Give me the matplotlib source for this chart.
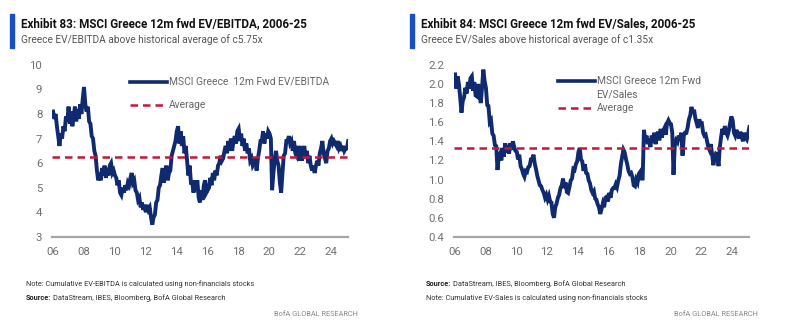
import pandas as pd
import matplotlib.pyplot as plt
from matplotlib import font_manager
from matplotlib.patches import Rectangle

# pick a narrow font if we have one
names = set(f.name for f in font_manager.fontManager.ttflist)
narrow = 'Liberation Sans Narrow' in names
plt.rcParams['font.family'] = ['Liberation Sans Narrow' if narrow else 'Roboto', 'DejaVu Sans']
k = 1.0 if narrow else 0.84

NAVY = '#0f2a6e'
RED = '#c4173b'
GREY = '#666666'

# monthly readings, Jan 2006 - Feb 2025
ev_ebitda = [
    8.1, 7.8, 8.0, 7.5, 7.1, 6.7, 7.2, 7.0, 7.5, 7.3, 7.9, 7.7,   # 2006
    8.3, 7.6, 8.1, 7.5, 7.9, 8.3, 7.7, 8.2, 7.8, 8.4, 8.0, 8.6,   # 2007
    9.1, 8.4, 8.1, 8.3, 7.7, 7.6, 7.1, 7.0, 6.5, 6.3, 5.7, 5.3,   # 2008
    5.6, 5.3, 5.8, 5.5, 5.9, 5.4, 5.8, 5.5, 5.9, 6.0, 5.6, 5.7,   # 2009
    5.5, 5.4, 5.1, 5.3, 4.8, 4.7, 5.0, 4.8, 5.1, 4.9, 5.2, 5.1,   # 2010
    5.4, 5.6, 5.2, 5.3, 4.9, 4.8, 4.5, 4.6, 4.2, 4.4, 4.1, 4.3,   # 2011
    4.0, 4.3, 4.1, 4.2, 3.8, 3.5, 3.8, 3.9, 4.4, 4.5, 5.0, 5.1,   # 2012
    5.5, 5.8, 5.2, 5.6, 5.9, 5.3, 5.6, 5.7, 6.3, 6.5, 6.7, 6.9,   # 2013
    7.3, 7.5, 6.8, 7.3, 6.7, 7.1, 6.4, 6.7, 6.1, 5.5, 5.9, 5.2,   # 2014
    5.2, 4.8, 5.3, 4.9, 5.3, 4.6, 4.4, 4.9, 4.5, 5.1, 5.3, 4.8,   # 2015
    4.9, 5.0, 5.4, 5.1, 5.6, 5.3, 5.7, 5.5, 5.9, 6.0, 6.3, 6.1,   # 2016
    6.2, 6.5, 6.7, 6.4, 6.9, 6.5, 7.0, 6.5, 6.9, 7.1, 6.8, 7.3,   # 2017
    7.4, 6.9, 7.2, 6.7, 7.0, 6.5, 6.8, 6.4, 6.6, 6.1, 6.2, 5.9,   # 2018
    6.0, 6.2, 5.7, 6.2, 6.5, 6.9, 6.9, 7.3, 6.8, 7.2, 7.0, 7.3,   # 2019
    7.2, 7.0, 4.9, 5.6, 6.1, 6.5, 6.1, 5.9, 5.2, 4.8, 5.6, 6.3,   # 2020
    6.4, 6.9, 6.9, 7.1, 6.8, 6.9, 6.5, 6.9, 6.4, 6.3, 6.7, 6.1,   # 2021
    6.7, 6.1, 6.4, 6.7, 6.2, 6.5, 6.0, 6.3, 5.9, 5.7, 5.9, 5.6,   # 2022
    5.9, 6.1, 5.9, 6.4, 6.6, 6.9, 6.4, 6.2, 6.0, 6.5, 6.6, 6.9,   # 2023
    7.0, 6.8, 6.9, 6.8, 6.7, 6.9, 6.6, 6.7, 6.5, 6.7, 6.5, 6.6,   # 2024
    6.6, 6.9,                                                     # 2025
]
ev_sales = [
    2.10, 1.95, 2.08, 2.00, 1.86, 1.70, 1.82, 1.86, 1.96, 1.90, 2.02, 1.95,
    2.06, 2.08, 1.93, 2.02, 1.88, 1.87, 2.00, 1.90, 1.80, 1.96, 2.15, 2.03,
    1.96, 1.78, 1.77, 1.60, 1.62, 1.48, 1.46, 1.36, 1.35, 1.10, 1.24, 1.27,
    1.20, 1.33, 1.24, 1.38, 1.28, 1.36, 1.27, 1.38, 1.31, 1.40, 1.34, 1.30,
    1.29, 1.21, 1.26, 1.14, 1.11, 1.06, 1.03, 1.09, 1.08, 1.13, 1.14, 1.21,
    1.21, 1.26, 1.17, 1.11, 1.04, 0.99, 0.94, 0.93, 0.89, 0.86, 0.81, 0.84,
    0.79, 0.83, 0.77, 0.76, 0.64, 0.60, 0.71, 0.75, 0.81, 0.84, 0.91, 0.94,
    1.01, 0.91, 0.97, 0.87, 0.86, 0.92, 0.99, 1.01, 1.11, 1.10, 1.16, 1.19,
    1.29, 1.33, 1.21, 1.19, 1.09, 1.16, 1.07, 1.06, 0.99, 0.96, 0.89, 0.86,
    0.88, 0.80, 0.79, 0.74, 0.71, 0.64, 0.69, 0.75, 0.71, 0.81, 0.82, 0.77,
    0.86, 0.81, 0.89, 0.91, 0.91, 0.95, 0.92, 0.99, 1.04, 1.16, 1.24, 1.31,
    1.28, 1.21, 1.16, 1.09, 1.06, 1.07, 1.03, 0.94, 0.93, 1.00, 0.97, 1.06,
    1.08, 1.01, 1.01, 1.52, 1.41, 1.46, 1.37, 1.43, 1.34, 1.46, 1.39, 1.49,
    1.37, 1.46, 1.50, 1.41, 1.53, 1.44, 1.51, 1.54, 1.47, 1.59, 1.62, 1.59,
    1.58, 1.49, 1.05, 1.36, 1.41, 1.39, 1.46, 1.41, 1.49, 1.25, 1.46, 1.49,
    1.49, 1.55, 1.63, 1.67, 1.76, 1.69, 1.73, 1.64, 1.59, 1.54, 1.63, 1.59,
    1.59, 1.49, 1.46, 1.47, 1.41, 1.34, 1.31, 1.37, 1.27, 1.15, 1.23, 1.27,
    1.26, 1.14, 1.33, 1.44, 1.53, 1.47, 1.56, 1.49, 1.46, 1.51, 1.59, 1.66,
    1.62, 1.49, 1.46, 1.52, 1.47, 1.43, 1.50, 1.45, 1.40, 1.49, 1.44, 1.42,
    1.48, 1.55,
]
avg_ebitda = 6.25
avg_sales = 1.33
dates = pd.date_range('2006-01-01', periods=len(ev_ebitda), freq='MS') + pd.Timedelta(days=14)
year_ticks = list(range(2006, 2025, 2))
tick_labels = ['%02d' % (y % 100) for y in year_ticks]

fig = plt.figure(figsize=(8, 3.36), dpi=100)


def panel(rect, values, avg, ylim, yticks, yfmt):
    ax = fig.add_axes(rect)
    ax.plot(dates, values, color=NAVY, lw=2.8, solid_joinstyle='miter')
    ax.axhline(avg, color=RED, lw=1.8, ls=(0, (3, 2)))
    ax.set_ylim(ylim)
    ax.set_xlim(pd.Timestamp('2005-12-20'), pd.Timestamp('2025-02-10'))
    ax.set_yticks(yticks)
    ax.set_yticklabels([yfmt % v for v in yticks])
    ax.set_xticks([pd.Timestamp('%d-01-01' % y) for y in year_ticks])
    ax.set_xticklabels(tick_labels)
    for s in ['top', 'right', 'left']:
        ax.spines[s].set_visible(False)
    ax.spines['bottom'].set_color('#a6a6a6')
    ax.spines['bottom'].set_linewidth(1.6)
    ax.tick_params(length=0, labelsize=9.8 * k, colors='#707070', pad=7)
    return ax


def legend(ax, x0, x1, rows, avg_y):
    ax.plot([x0, x1], [rows[0][0]] * 2, transform=ax.transAxes, color=NAVY, lw=2.6, clip_on=False)
    ax.plot([x0, x1], [avg_y] * 2, transform=ax.transAxes, color=RED, lw=1.8, ls=(0, (3, 2)),
            clip_on=False)
    for y, s in rows + [(avg_y, 'Average')]:
        ax.text(x1 + 0.005, y, s, transform=ax.transAxes, va='center', fontsize=8.8 * k, color=GREY)


axl = panel([0.065, 0.295, 0.37, 0.512], ev_ebitda, avg_ebitda, (3, 10), list(range(3, 11)), '%d')
legend(axl, 0.264, 0.389, [(0.901, 'MSCI Greece  12m Fwd EV/EBITDA')], 0.767)

sales_ticks = [0.4, 0.6, 0.8, 1.0, 1.2, 1.4, 1.6, 1.8, 2.0, 2.2]
axr = panel([0.5675, 0.295, 0.369, 0.512], ev_sales, avg_sales, (0.4, 2.2), sales_ticks, '%.1f')
legend(axr, 0.353, 0.478, [(0.907, 'MSCI Greece 12m Fwd'), (0.826, 'EV/Sales')], 0.75)

# headers
W, H = 800.0, 336.0
for x0, title, sub in [
    (0, 'Exhibit 83: MSCI Greece 12m fwd EV/EBITDA, 2006-25',
     'Greece EV/EBITDA above historical average of c5.75x'),
    (400, 'Exhibit 84: MSCI Greece 12m fwd EV/Sales, 2006-25',
     'Greece EV/Sales above historical average of c1.35x'),
]:
    fig.patches.append(Rectangle(((x0 + 10) / W, 1 - 48 / H), 4 / W, 34 / H,
                                 transform=fig.transFigure, color='#1a4fc4', figure=fig))
    fig.text((x0 + 21) / W, 1 - 24 / H, title, fontsize=10 * k, fontweight='bold', color='#111111',
             va='center')
    fig.text((x0 + 21) / W, 1 - 40 / H, sub, fontsize=8.7 * k, color='#555555', va='center')

# footnotes
fs = 6.3 * k
src = 'DataStream, IBES, Bloomberg, BofA Global Research'
fig.text(26 / W, 1 - 284 / H, 'Note: Cumulative EV-EBITDA is calculated using non-financials stocks',
         fontsize=fs, color='#333333', va='center')
fig.text(26 / W, 1 - 298 / H, 'Source:', fontsize=fs, fontweight='bold', color='#222222', va='center')
fig.text(53 / W, 1 - 298 / H, src, fontsize=fs, color='#333333', va='center')
fig.text(358 / W, 1 - 315 / H, 'BofA GLOBAL RESEARCH', fontsize=fs, color='#888888', va='center', ha='right')

fig.text(426 / W, 1 - 284 / H, 'Source:', fontsize=fs, fontweight='bold', color='#222222', va='center')
fig.text(453 / W, 1 - 284 / H, src, fontsize=fs, color='#333333', va='center')
fig.text(426 / W, 1 - 298 / H, 'Note: Cumulative EV-Sales is calculated using non-financials stocks',
         fontsize=fs, color='#333333', va='center')
fig.text(758 / W, 1 - 315 / H, 'BofA GLOBAL RESEARCH', fontsize=fs, color='#888888', va='center', ha='right')

fig.savefig('out.png', dpi=100, facecolor='white')
